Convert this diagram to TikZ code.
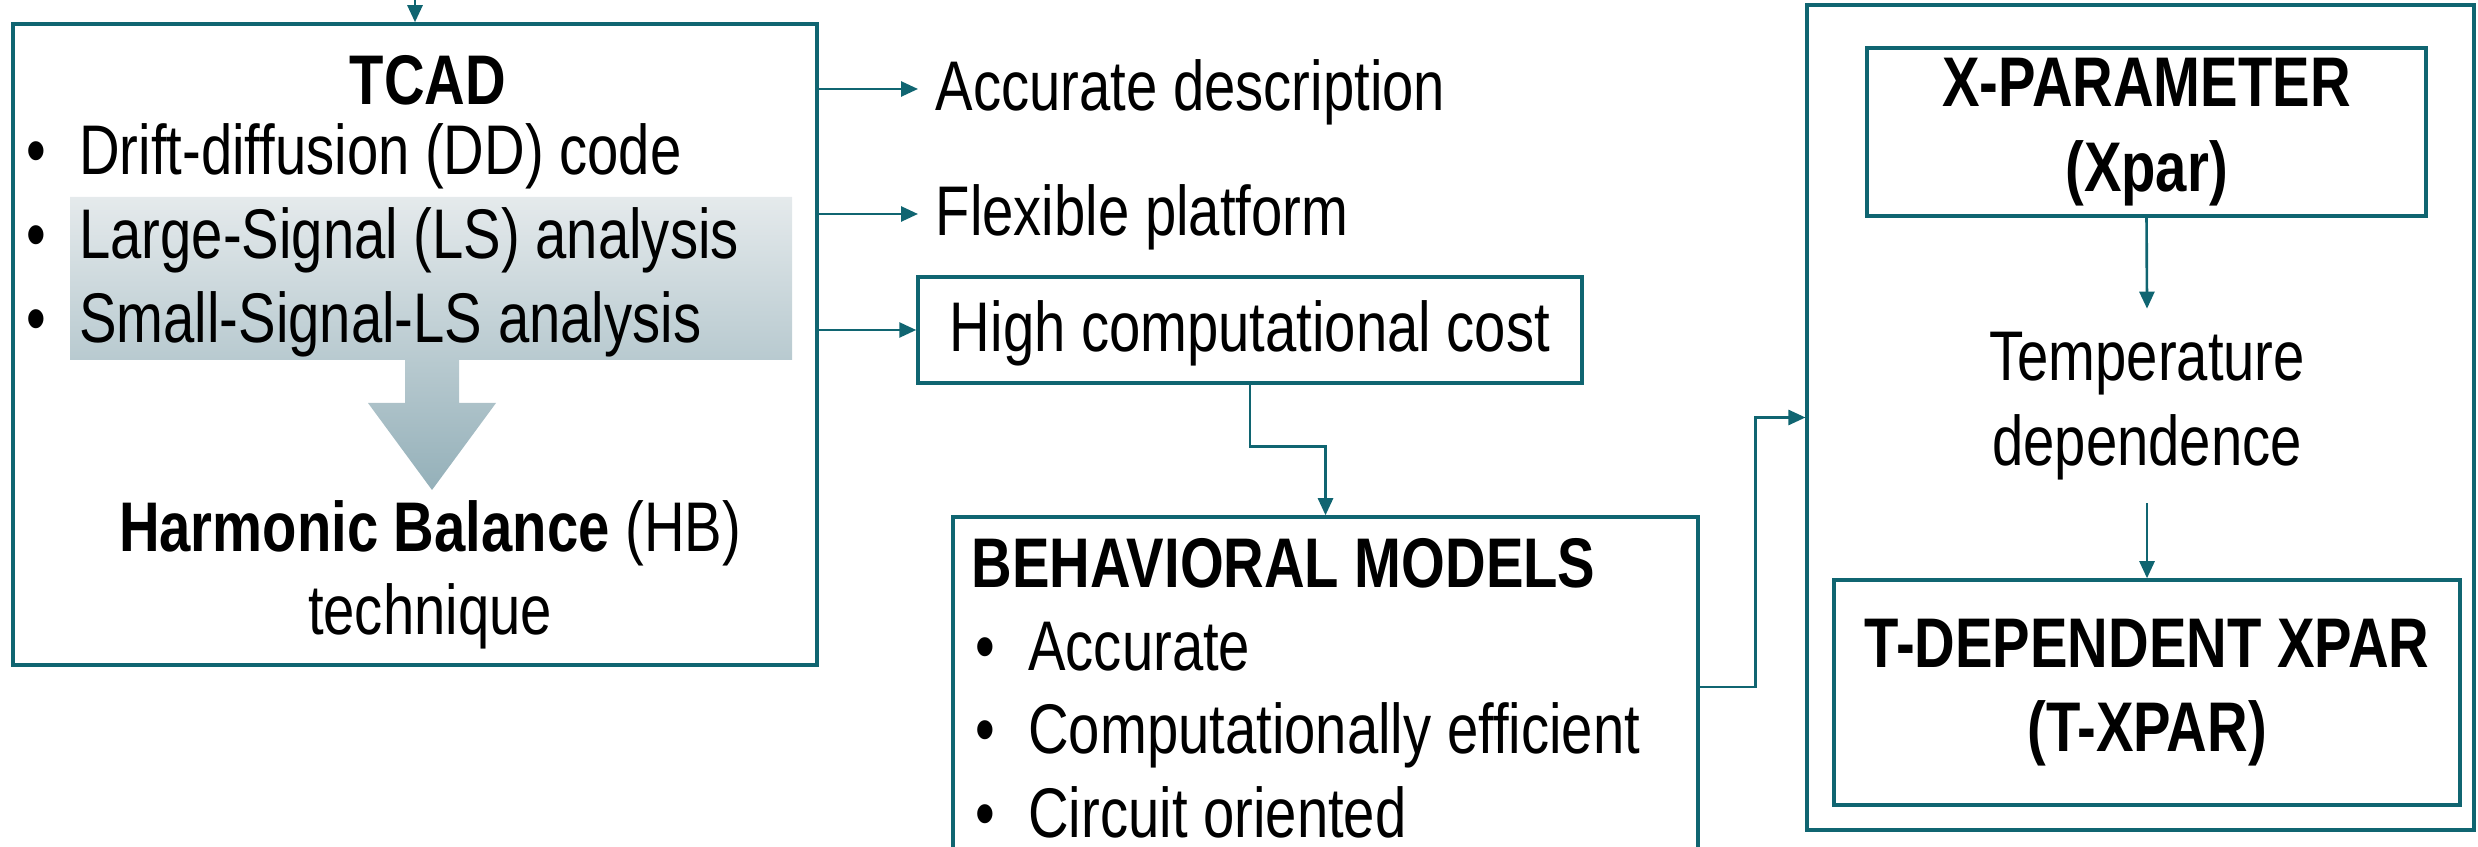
\documentclass[tikz,border=0pt]{standalone}
\usepackage{fontspec}
\setmainfont{Liberation Sans}[FakeStretch=0.8]
\usepackage{tikz}
\usetikzlibrary{arrows.meta,positioning,calc}
\definecolor{linkteal}{RGB}{16,101,113}
\definecolor{bandtop}{RGB}{229,234,236}
\definecolor{bandbot}{RGB}{148,176,185}

\tikzset{
  box/.style={draw=linkteal, line width=1pt, inner sep=0pt},
  conn/.style={draw=linkteal, line width=0.75pt, -{Triangle[length=0.17cm,width=0.15cm]}},
  txt/.style={inner xsep=0.17cm, inner ysep=0pt, text height=0.5cm, text depth=0.06cm},
  line/.style={anchor=base west, inner sep=0pt},
}
\newcommand{\bitem}[1]{\textbullet\hspace{0.33cm}#1}

\begin{document}
\begin{tikzpicture}[font=\fontsize{20}{24}\selectfont]
    \useasboundingbox (0,0) rectangle (24.78,8.46);
    \clip (0,0) rectangle (24.78,8.46);

    % TCAD block
    \coordinate (feed) at (4.15,8.46);
    \node[box, minimum width=8.04cm, minimum height=6.41cm] (tcad) at (4.15,5.015) {};
    \shade[top color=bandtop, bottom color=bandbot]
        (0.70,6.49) -- (7.92,6.49) -- (7.92,4.86) -- (4.59,4.86) -- (4.59,4.43)
        -- (4.96,4.43) -- (4.32,3.56) -- (3.68,4.43) -- (4.05,4.43) -- (4.05,4.86)
        -- (0.70,4.86) -- cycle;
    \node[anchor=base, inner sep=0pt] (tcadtitle) at (4.28,7.41) {\textbf{TCAD}};
    \node[line] (dd) at (0.26,6.71) {\bitem{Drift-diffusion (DD) code}};
    \node[line] (ls) at (0.26,5.87) {\bitem{Large-Signal (LS) analysis}};
    \node[line] (ssls) at (0.26,5.03) {\bitem{Small-Signal-LS analysis}};
    \node[anchor=base, inner sep=0pt] (hb) at (4.30,2.94) {\textbf{Harmonic Balance} (HB)};
    \node[anchor=base, inner sep=0pt] (hbtech) at (4.30,2.11) {technique};

    % Pros and cons
    \node[txt, anchor=west] (acc) at (9.18,7.57) {Accurate description};
    \node[txt, anchor=west] (flex) at (9.18,6.32) {Flexible platform};
    \node[box, txt, minimum width=6.64cm, minimum height=1.06cm] (high) at (12.50,5.16) {High computational cost};

    % Behavioral models
    \node[box, minimum width=7.45cm, minimum height=3.40cm] (behav) at (13.255,1.59) {};
    \node[line] (behavtitle) at (9.71,2.58) {\textbf{BEHAVIORAL MODELS}};
    \node[line] (bacc) at (9.75,1.76) {\bitem{Accurate}};
    \node[line] (beff) at (9.75,0.93) {\bitem{Computationally efficient}};
    \node[line] (bcirc) at (9.75,0.09) {\bitem{Circuit oriented}};

    % X-parameter flow
    \node[box, line width=0.9pt, minimum width=6.67cm, minimum height=8.25cm] (big) at (21.405,4.285) {};
    \node[box, minimum width=5.59cm, minimum height=1.68cm, align=center] (xpar) at (21.465,7.14)
        {\textbf{X-PARAMETER}\\\textbf{(Xpar)}};
    \node[inner xsep=0pt, inner ysep=0.23cm, align=center] (temp) at (21.47,4.40)
        {Temperature\\dependence};
    \node[box, minimum width=6.26cm, minimum height=2.25cm, align=center] (txpar) at (21.47,1.535)
        {\textbf{T-DEPENDENT XPAR}\\\textbf{(T-XPAR)}};

    % Connectors
    \draw[conn] (feed) -- (tcad.north);
    \draw[conn] (tcad.east |- acc.west) -- (acc.west);
    \draw[conn] (tcad.east |- flex.west) -- (flex.west);
    \draw[conn] (tcad.east |- high.west) -- (high.west);
    \draw[conn] (high.south) -- ++(0,-0.62) -| (behav.north);
    \draw[conn] (behav.east) -- ++(0.56,0) |- (big.west);
    \draw[conn] (xpar.south) -- (temp.north);
    \draw[conn] (temp.south) -- (txpar.north);
\end{tikzpicture}
\end{document}
